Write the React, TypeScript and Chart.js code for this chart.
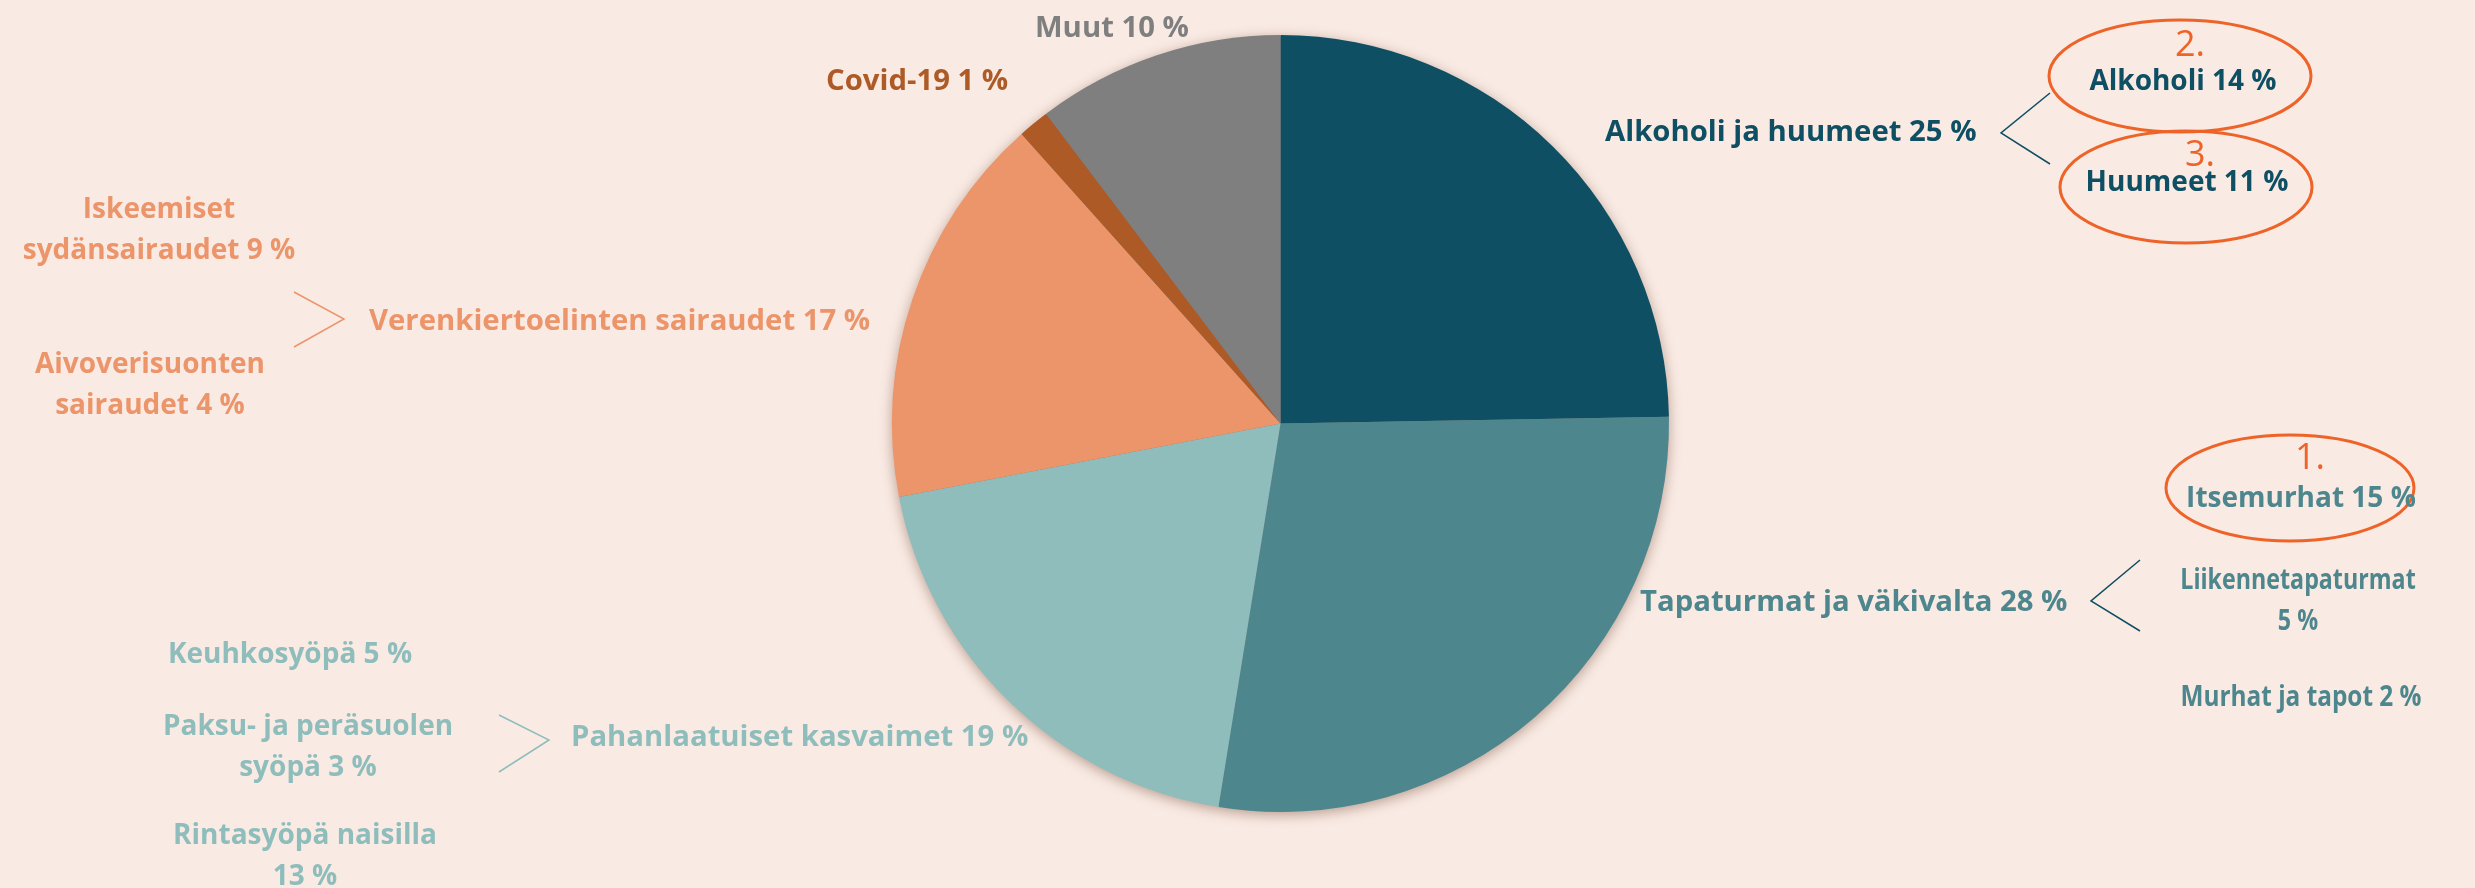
import React, { useEffect, useRef } from "react";
import { Chart, registerables } from "chart.js";

Chart.register(...registerables);

// ---- data ----
const categories = [
  "Alkoholi ja huumeet",
  "Tapaturmat ja väkivalta",
  "Pahanlaatuiset kasvaimet",
  "Verenkiertoelinten sairaudet",
  "Covid-19",
  "Muut",
];
const shares = [24.7, 27.8, 19.4, 16.4, 1.3, 10.3];
const shownPercents = [25, 28, 19, 17, 1, 10];
const sliceColors = ["#0f4f63", "#4e868e", "#8ebdbc", "#ec946a", "#ad5a27", "#7f7f7f"];
const labelColors = ["#0f4f63", "#4e868e", "#8ebdbc", "#ec946a", "#ad5a27", "#7f7f7f"];

// sub-categories (lines of text)
const alcoholSub = [["Alkoholi 14 %"], ["Huumeet 11 %"]];
const accidentSub = [["Itsemurhat 15 %"], ["Liikennetapaturmat", "5 %"], ["Murhat ja tapot 2 %"]];
const cancerSub = [["Keuhkosyöpä 5 %"], ["Paksu- ja peräsuolen", "syöpä 3 %"], ["Rintasyöpä naisilla", "13 %"]];
const circSub = [["Iskeemiset", "sydänsairaudet 9 %"], ["Aivoverisuonten", "sairaudet 4 %"]];
const rankLabels = ["1.", "2.", "3."];

const BG = "#f9ebe4";
const RANK = "#ee6327";
const FONT = "'Open Sans', 'Noto Sans', sans-serif";
const FS_MAIN = 29.3;
const FS_SUB = 28;

const annotationPlugin = {
  id: "annotations",
  beforeDraw(chart: any) {
    const ctx = chart.ctx;
    ctx.save();
    ctx.fillStyle = BG;
    ctx.fillRect(0, 0, chart.width, chart.height);
    ctx.restore();
  },
  beforeDatasetsDraw(chart: any) {
    const meta = chart.getDatasetMeta(0);
    const arc = meta.data[0];
    if (!arc) return;
    const ctx = chart.ctx;
    ctx.save();
    ctx.shadowColor = "rgba(90,40,20,0.45)";
    ctx.shadowBlur = 14;
    ctx.shadowOffsetY = 3;
    ctx.fillStyle = "#7f7f7f";
    ctx.beginPath();
    ctx.arc(arc.x, arc.y, arc.outerRadius - 1, 0, Math.PI * 2);
    ctx.fill();
    ctx.restore();
  },
  afterDatasetsDraw(chart: any) {
    const ctx = chart.ctx;
    ctx.save();
    ctx.textBaseline = "middle";

    const main = (i: number, x: number, y: number) => {
      ctx.font = `bold ${FS_MAIN}px ${FONT}`;
      ctx.fillStyle = labelColors[i];
      ctx.textAlign = "left";
      ctx.fillText(`${categories[i]} ${shownPercents[i]} %`, x, y);
    };
    const block = (lines: string[], color: string, cx: number, cy: number, sx = 1) => {
      ctx.save();
      ctx.font = `bold ${FS_SUB}px ${FONT}`;
      ctx.fillStyle = color;
      ctx.textAlign = "center";
      ctx.translate(cx, 0);
      ctx.scale(sx, 1);
      const lh = 41;
      const y0 = cy - ((lines.length - 1) * lh) / 2;
      lines.forEach((l, k) => ctx.fillText(l, 0, y0 + k * lh));
      ctx.restore();
    };
    const bracket = (color: string, ax: number, ay: number, ex: number, y1: number, y2: number) => {
      ctx.strokeStyle = color;
      ctx.lineWidth = 1.5;
      ctx.beginPath();
      ctx.moveTo(ex, y1);
      ctx.lineTo(ax, ay);
      ctx.lineTo(ex, y2);
      ctx.stroke();
    };
    const ellipse = (cx: number, cy: number, rx: number, ry: number) => {
      ctx.strokeStyle = RANK;
      ctx.lineWidth = 3;
      ctx.beginPath();
      ctx.ellipse(cx, cy, rx, ry, 0, 0, Math.PI * 2);
      ctx.stroke();
    };
    const rank = (t: string, x: number, y: number) => {
      ctx.font = `36px ${FONT}`;
      ctx.fillStyle = RANK;
      ctx.textAlign = "center";
      ctx.fillText(t, x, y);
    };

    // main labels
    main(5, 1035, 29);
    main(4, 826, 82);
    main(0, 1605, 133);
    main(1, 1640, 603);
    main(2, 571, 738);
    main(3, 369, 322);

    // Alkoholi ja huumeet
    bracket(labelColors[0], 2001, 133, 2050, 93, 164);
    ellipse(2180, 76, 131, 56);
    ellipse(2186, 187, 126, 56);
    rank(rankLabels[1], 2190, 46);
    rank(rankLabels[2], 2200, 156);
    block(alcoholSub[0], labelColors[0], 2183, 82);
    block(alcoholSub[1], labelColors[0], 2187, 183);

    // Tapaturmat
    bracket(labelColors[0], 2091, 601, 2140, 560, 631);
    ellipse(2290, 488, 124, 53);
    rank(rankLabels[0], 2310, 459);
    block(accidentSub[0], labelColors[1], 2301, 499);
    block(accidentSub[1], labelColors[1], 2298, 602, 0.83);
    block(accidentSub[2], labelColors[1], 2301, 698, 0.87);

    // Verenkierto
    bracket(labelColors[3], 344, 319, 294, 292, 347);
    block(circSub[0], labelColors[3], 159, 231);
    block(circSub[1], labelColors[3], 150, 386);

    // Syöpä
    bracket(labelColors[2], 549, 740, 499, 715, 772);
    block(cancerSub[0], labelColors[2], 290, 655);
    block(cancerSub[1], labelColors[2], 308, 748);
    block(cancerSub[2], labelColors[2], 305, 857);

    ctx.restore();
  },
};

export default function App() {
  const ref = useRef<HTMLCanvasElement | null>(null);
  useEffect(() => {
    if (!ref.current) return;
    const chart = new Chart(ref.current, {
      type: "pie",
      data: {
        labels: categories,
        datasets: [
          {
            data: shares,
            backgroundColor: sliceColors,
            borderWidth: 0,
          },
        ],
      },
      options: {
        animation: false,
        responsive: true,
        maintainAspectRatio: false,
        layout: { padding: { top: 35, bottom: 76, left: 86, right: 0 } },
        plugins: { legend: { display: false }, tooltip: { enabled: false } },
      },
      plugins: [annotationPlugin],
    });
    return () => chart.destroy();
  }, []);
  return (
    <div style={{ position: "fixed", left: 0, top: 0, width: 2475, height: 888, background: BG }}>
      <canvas ref={ref} />
    </div>
  );
}
